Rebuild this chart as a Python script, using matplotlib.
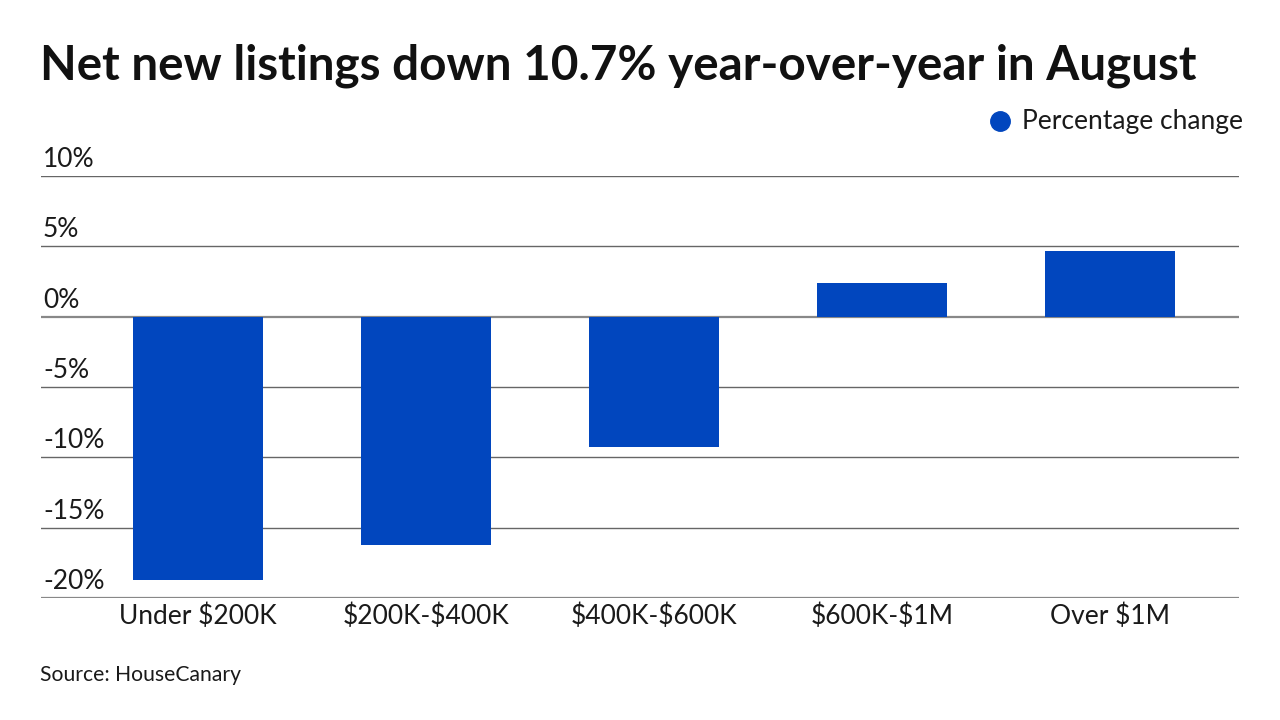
import matplotlib
matplotlib.use("Agg")
import matplotlib.pyplot as plt
import matplotlib.transforms as mtransforms
from matplotlib.lines import Line2D

categories = ["Under $200K", "$200K-$400K", "$400K-$600K", "$600K-$1M", "Over $1M"]
values = [-18.7, -16.2, -9.3, 2.4, 4.7]
yticks = [10, 5, 0, -5, -10, -15, -20]
ytick_labels = ["10%", "5%", "0%", "-5%", "-10%", "-15%", "-20%"]

plt.rcParams['font.family'] = ['Lato', 'DejaVu Sans']
plt.rcParams['text.parse_math'] = False

fig = plt.figure(figsize=(12.8, 7.2), dpi=100)
ax = fig.add_axes([41/1280, 1-598/720, (1239-41)/1280, (598-176)/720])

bar_color = '#0146BE'
x = list(range(len(categories)))
ax.bar(x, values, width=130/228, color=bar_color, zorder=3)

ax.set_ylim(-20, 10)
ax.set_xlim(-157/228, 4 + 129/228)

label_tr = ax.get_yaxis_transform() + mtransforms.ScaledTranslation(0, 4/100, fig.dpi_scale_trans)
for t, lbl in zip(yticks, ytick_labels):
    ax.axhline(t, color='#888888' if t in (0, -20) else '#666666',
               lw=1.6 if t in (0, -20) else 1.0, zorder=1)
    ax.text(2/1198, t, lbl, transform=label_tr,
            ha='left', va='bottom', fontsize=19, color='#1a1a1a')

ax.set_yticks([])
ax.set_xticks(x)
ax.set_xticklabels(categories, fontsize=19, color='#1a1a1a')
ax.tick_params(axis='x', length=0, pad=4)
for s in ax.spines.values():
    s.set_visible(False)

fig.text(40/1280, 1-80/720, "Net new listings down 10.7% year-over-year in August",
         fontsize=34.3, fontweight='bold', ha='left', va='baseline', color='#111111')
fig.text(40/1280, 1-681/720, "Source: HouseCanary", fontsize=15.2,
         ha='left', va='baseline', color='#1a1a1a')

fig.add_artist(Line2D([1000/1280], [1-121/720], marker='o', markersize=14,
                      color=bar_color, linestyle='none', transform=fig.transFigure))
fig.text(1022/1280, 1-129/720, "Percentage change", fontsize=19,
         ha='left', va='baseline', color='#1a1a1a')

fig.savefig("out.png", dpi=100)
